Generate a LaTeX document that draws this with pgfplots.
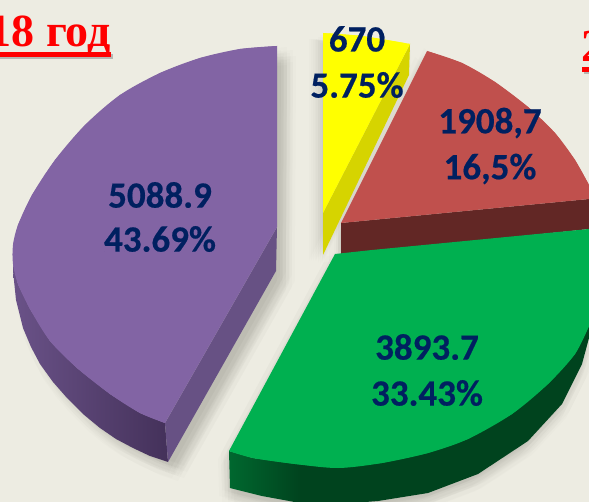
\documentclass[border=0pt]{standalone}
\usepackage{pgfplots}
\usepackage{pgfplotstable}
\usepackage{fontspec}
\setmainfont{Carlito}[BoldFeatures={FakeBold=0.5}]
\newfontfamily\serifb{Liberation Serif}
\pgfplotsset{compat=1.18}
\definecolor{bg}{HTML}{EDECE2}
\definecolor{lab}{HTML}{002060}
\definecolor{ptop}{HTML}{8264A4}
\definecolor{pcut}{HTML}{675184}
\definecolor{pl}{HTML}{6A5288}
\definecolor{pr}{HTML}{44315A}
\definecolor{rtop}{HTML}{C0504D}
\definecolor{rside}{HTML}{622725}
\definecolor{gtop}{HTML}{00B050}
\definecolor{gl}{HTML}{00682F}
\definecolor{gr}{HTML}{00431E}
\definecolor{ytop}{HTML}{FFFF00}
\definecolor{yside}{HTML}{D6D400}
\definecolor{ttl}{HTML}{FF0000}
% ---- outlines, in pixels
% arcs (drawn smooth) and full outlines (drawn sharp)
\pgfplotstableread{
x y
277 46
240 49
200 58
160 73
120 95
85 125
55 160
32 195
18 225
13 245
13 264
18 284
30 309
50 341
77 368
110 394
140 413
165 423
}\parcT
\pgfplotstableread{
x y
277 46
240 49
200 58
160 73
120 95
85 125
55 160
32 195
18 225
13 245
13 264
18 284
30 309
50 341
77 368
110 394
140 413
165 423
277 227
}\ptopT
\pgfplotstableread{
x y
165 423
277 227
276 271
168 462
}\pcutT
\pgfplotstableread{
x y
13 250
13 271
16 300
23 328
31 347
40 364
53 382
67 398
83 414
100 428
116 439
133 448
150 456
168 462
165 423
140 413
110 394
77 368
50 341
30 309
18 284
13 264
}\psideT
\pgfplotstableread{
x y
277 46
240 49
200 58
160 73
120 95
85 125
55 160
32 195
18 225
13 245
13 271
16 300
23 328
31 347
40 364
53 382
67 398
83 414
100 428
116 439
133 448
150 456
168 462
276 271
}\psilT
\pgfplotstableread{
x y
323 33
362 36
410 44
}\yarcT
\pgfplotstableread{
x y
323 33
362 36
410 44
323 213
}\ytopT
\pgfplotstableread{
x y
410 44
409 75
323 255
323 213
}\ysideT
\pgfplotstableread{
x y
323 33
410 44
409 75
323 255
}\ysilT
\pgfplotstableread{
x y
427 51
462 63
495 82
528 107
555 133
575 160
589 185
}\rarcT
\pgfplotstableread{
x y
427 51
462 63
495 82
528 107
555 133
575 160
589 185
589 199
341 223
}\rtopT
\pgfplotstableread{
x y
341 223
589 199
589 229
341 255
}\rsideT
\pgfplotstableread{
x y
341 223
427 51
589 185
589 229
341 255
}\rsilT
\pgfplotstableread{
x y
589 326
575 354
548 384
512 414
468 439
428 453
382 463
338 468
295 464
253 458
229 451
}\garcT
\pgfplotstableread{
x y
335 254
372 250
589 229
589 326
575 354
548 384
512 414
468 439
428 453
382 463
338 468
295 464
253 458
229 451
}\gtopT
\pgfplotstableread{
x y
229 451
253 458
300 464
300 503
262 496
230 488
}\gsideLT
\pgfplotstableread{
x y
589 326
589 338
582 364
562 404
528 441
478 474
428 493
378 501
340 504
299 503
299 464
}\gsideRT
\pgfplotstableread{
x y
335 254
589 229
589 338
582 364
562 404
528 441
478 474
428 493
378 501
340 504
299 503
262 496
230 488
229 451
}\gsilT
% soft shadow: the outline filled faintly at offsets around a centre
\newcommand{\softlayer}[3]{%
  \addplot[draw=none,fill=black,fill opacity=.012,shift={(#2pt,#3pt)}] table {#1};}
\newcommand{\softshadow}[3]{% table, centre x, centre y
  \pgfmathsetmacro{\cx}{#2}\pgfmathsetmacro{\cy}{#3}
  \foreach \dx/\dy in {4/0,-4/0,0/4,0/-4,3/3,-3/3,3/-3,-3/-3,
                       9/0,-9/0,0/9,0/-9,6/6,-6/6,6/-6,-6/-6}{
    \pgfmathsetmacro{\sx}{\cx+\dx}\pgfmathsetmacro{\sy}{\cy+\dy}
    \edef\temp{\noexpand\softlayer{\noexpand#1}{\sx}{\sy}}\temp
  }
}
\begin{document}
\begin{tikzpicture}
\useasboundingbox (0,0) rectangle (589pt,502pt);
\clip (0,0) rectangle (589pt,502pt);
\fill[bg] (0,0) rectangle (589pt,502pt);
\begin{axis}[
  at={(0,0)},anchor=south west,
  scale only axis,width=589pt,height=502pt,
  xmin=0,xmax=589,ymin=0,ymax=502,y dir=reverse,
  axis lines=none,ticks=none,clip=true,
]
\pgfplotsinvokeforeach{{4/0}}{}
\softlayer{\psilT}{14}{-10}\softlayer{\psilT}{6}{-10}\softlayer{\psilT}{10}{-6}\softlayer{\psilT}{10}{-14}
\softlayer{\psilT}{13}{-7}\softlayer{\psilT}{7}{-7}\softlayer{\psilT}{13}{-13}\softlayer{\psilT}{7}{-13}
\softlayer{\psilT}{19}{-10}\softlayer{\psilT}{1}{-10}\softlayer{\psilT}{10}{-1}\softlayer{\psilT}{10}{-19}
\softlayer{\psilT}{16}{-4}\softlayer{\psilT}{4}{-4}\softlayer{\psilT}{16}{-16}\softlayer{\psilT}{4}{-16}
%
\softlayer{\ysilT}{1}{-6}\softlayer{\ysilT}{-7}{-6}\softlayer{\ysilT}{-3}{-2}\softlayer{\ysilT}{-3}{-10}
\softlayer{\ysilT}{-1}{-4}\softlayer{\ysilT}{-5}{-4}\softlayer{\ysilT}{-1}{-8}\softlayer{\ysilT}{-5}{-8}
\softlayer{\ysilT}{-10}{-6}\softlayer{\ysilT}{-12}{-6}\softlayer{\ysilT}{-8}{-6}\softlayer{\ysilT}{-14}{-6}
%
\softlayer{\rsilT}{1}{-6}\softlayer{\rsilT}{-7}{-6}\softlayer{\rsilT}{-3}{-2}\softlayer{\rsilT}{-3}{-10}
\softlayer{\rsilT}{-1}{-4}\softlayer{\rsilT}{-5}{-4}\softlayer{\rsilT}{-1}{-8}\softlayer{\rsilT}{-5}{-8}
\softlayer{\rsilT}{-12}{-6}\softlayer{\rsilT}{6}{-6}\softlayer{\rsilT}{-3}{3}\softlayer{\rsilT}{-3}{-15}
%
\softlayer{\gsilT}{2}{-8}\softlayer{\gsilT}{-6}{-8}\softlayer{\gsilT}{-2}{-4}\softlayer{\gsilT}{-2}{-12}
\softlayer{\gsilT}{1}{-5}\softlayer{\gsilT}{-5}{-5}\softlayer{\gsilT}{1}{-11}\softlayer{\gsilT}{-5}{-11}
\softlayer{\gsilT}{7}{-8}\softlayer{\gsilT}{-11}{-8}\softlayer{\gsilT}{-2}{1}\softlayer{\gsilT}{-2}{-17}
\softlayer{\gsilT}{4}{-2}\softlayer{\gsilT}{-8}{-2}\softlayer{\gsilT}{4}{-14}\softlayer{\gsilT}{-8}{-14}
% yellow
\addplot[draw=none,fill=yside] table {\ysideT};
\addplot[draw=none,fill=ytop] table {\ytopT};
\addplot[draw=none,fill=ytop,smooth,tension=.5] table {\yarcT};
% red
\addplot[draw=none,fill=rside] table {\rsideT};
\addplot[draw=none,fill=rtop] table {\rtopT};
\addplot[draw=none,fill=rtop,smooth,tension=.5] table {\rarcT};
% green
\addplot[draw=none,fill=gr] table {\gsideRT};
\addplot[draw=none,left color=gl,right color=gr] table {\gsideLT};
\addplot[draw=none,fill=gtop] table {\gtopT};
\addplot[draw=none,fill=gtop,smooth,tension=.5] table {\garcT};
% purple
\addplot[draw=none,left color=pl,right color=pr] table {\psideT};
\addplot[draw=none,fill=pcut] table {\pcutT};
\addplot[draw=none,fill=ptop] table {\ptopT};
\addplot[draw=none,fill=ptop,smooth,tension=.5] table {\parcT};
% labels
\def\lb#1#2#3{\node[text=lab,font=\fontsize{37}{37}\selectfont\bfseries,anchor=center,inner sep=0pt] at (axis cs:#1,#2) {#3};}
\lb{357}{39}{670}
\lb{357}{85}{5.75\%}
\lb{490}{123}{1908,7}
\lb{490}{169}{16,5\%}
\lb{160}{195}{5088.9}
\lb{160}{239}{43.69\%}
\lb{427}{347}{3893.7}
\lb{427}{393}{33.43\%}
% titles
\draw[black!45,opacity=.55,line width=4.5pt] (axis cs:0,56.5) -- (axis cs:113,56.5);
\draw[ttl,line width=4.5pt] (axis cs:0,54.5) -- (axis cs:111,54.5);
\draw[black!45,opacity=.55,line width=4.5pt] (axis cs:584,71.5) -- (axis cs:590,71.5);
\draw[ttl,line width=4.5pt] (axis cs:582,69.5) -- (axis cs:590,69.5);
\node[text=ttl,font=\serifb\fontsize{46}{46}\selectfont\bfseries,anchor=base east,inner sep=0pt] at (axis cs:111,47) {18 год};
\node[text=ttl,font=\serifb\fontsize{46}{46}\selectfont\bfseries,anchor=base west,inner sep=0pt] at (axis cs:581,62) {2};
\end{axis}
\end{tikzpicture}
\end{document}
